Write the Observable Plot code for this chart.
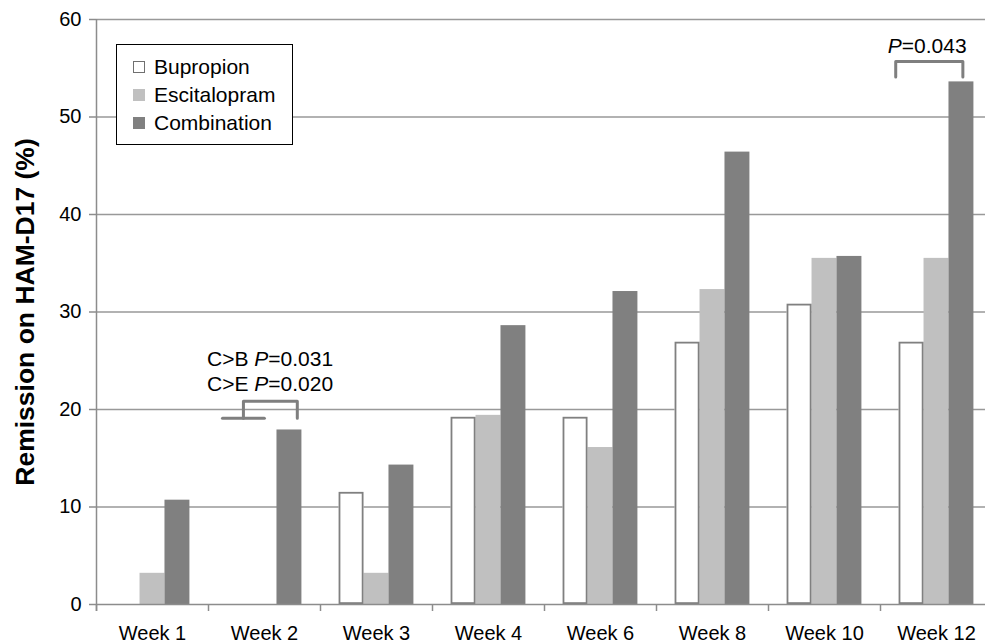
<!DOCTYPE html>
<html>
<head>
<meta charset="utf-8">
<script src="https://cdn.jsdelivr.net/npm/d3@7"></script>
<script src="https://cdn.jsdelivr.net/npm/@observablehq/plot@0.6"></script>
<style>
  html, body { margin: 0; padding: 0; background: #fff; overflow: hidden; }
  #chart { position: relative; width: 985px; height: 643px; overflow: hidden;
           font-family: "Liberation Sans", Arial, Helvetica, sans-serif; }
  #chart svg { display: block; }
  .legend { position: absolute; left: 116px; top: 44px; width: 175px; height: 99px;
            border: 1px solid #000; background: #fff; }
  .legend .row { position: absolute; left: 16px; height: 24px; display: flex; align-items: center;
                 font-size: 21px; color: #000; white-space: nowrap; }
  .legend .sw { width: 12px; height: 12px; margin-right: 9px; box-sizing: border-box; }
</style>
</head>
<body>
<div id="chart"></div>
<script>
// Remission rates (%) by study week for each treatment arm
const weeks = ["Week 1", "Week 2", "Week 3", "Week 4", "Week 6", "Week 8", "Week 10", "Week 12"];
const seriesNames = ["Bupropion", "Escitalopram", "Combination"];
const bupropion    = [0,    0,    11.5, 19.2, 19.2, 26.9, 30.8, 26.9];
const escitalopram = [3.2,  0,    3.2,  19.4, 16.1, 32.3, 35.5, 35.5];
const combination  = [10.7, 17.9, 14.3, 28.6, 32.1, 46.4, 35.7, 53.6];
const yTicks = [0, 10, 20, 30, 40, 50, 60];
const seriesColors = ["#ffffff", "#c0c0c0", "#808080"];
const yTitle = "Remission on HAM-D17 (%)";

// Significance brackets (x in bar-slot units inside a week group, y in %)
const bracketWeek2 = [{x: 0.655, y: 19.1}, {x: 0.655, y: 20.85}, {x: 2.815, y: 20.85}, {x: 2.815, y: 19.1}];
const stubWeek2 = [{x: -0.185, y: 19.1}, {x: 1.495, y: 19.1}];
const bracketWeek12 = [{x: -0.135, y: 54.1}, {x: -0.135, y: 55.7}, {x: 2.557, y: 55.7}, {x: 2.557, y: 54.1}];
const pLabels = [
  {week: "Week 2", x: 1.725, y: 25.2, text: "C>B P=0.031"},
  {week: "Week 2", x: 1.725, y: 22.55, text: "C>E P=0.020"},
  {week: "Week 12", x: 1.125, y: 57.3, text: "P=0.043"}
];

const allSeries = [bupropion, escitalopram, combination];
const rows = weeks.flatMap((week, w) =>
  allSeries.map((values, i) => ({week, series: seriesNames[i], slot: i, value: values[w]}))
);
const drawn = rows.filter(d => d.value > 0);

// each week group: three bar slots with empty space on both sides
const groupGap = 0.745;
const xDomain = [-groupGap, seriesNames.length + groupGap];
const axisGray = "#8c8c8c";

const plot = Plot.plot({
  width: 985,
  height: 643,
  marginTop: 19,
  marginBottom: 39,
  marginLeft: 95,
  marginRight: -8,
  style: {fontFamily: "'Liberation Sans', Arial, Helvetica, sans-serif", color: "#000", background: "transparent"},
  fx: {domain: weeks, padding: 0},
  x: {domain: xDomain, axis: null},
  y: {domain: [0, 60], axis: null},
  color: {domain: seriesNames, range: seriesColors},
  marks: [
    Plot.gridY(yTicks.slice(1), {stroke: "#999", strokeOpacity: 1, strokeWidth: 1.5}),
    Plot.rectY(drawn, {fx: "week", x1: "slot", x2: d => d.slot + 1, y1: 0, y2: "value", fill: "series"}),
    Plot.rectY(drawn.filter(d => d.series === "Bupropion"), {
      fx: "week", x1: "slot", x2: d => d.slot + 1, y1: 0, y2: "value",
      fill: "none", stroke: "#808080", strokeWidth: 1.8, inset: 0.9
    }),
    Plot.ruleY([0], {stroke: axisGray, strokeWidth: 1.5}),
    // category boundary ticks below the baseline
    Plot.ruleX(weeks.map(week => ({week})), {fx: "week", x: xDomain[0], y1: 0, y2: 0, insetBottom: -7, stroke: axisGray, strokeWidth: 1.5}),
    // vertical value axis line
    Plot.ruleX([{week: weeks[0]}], {fx: "week", x: xDomain[0], y1: 60, y2: 0, insetBottom: -7, stroke: axisGray, strokeWidth: 1.5}),
    Plot.axisY(yTicks, {tickSize: 7, tickPadding: 8, fontSize: 20, stroke: axisGray, strokeWidth: 1.5, fill: "#000", label: null}),
    Plot.axisFx({anchor: "bottom", tickSize: 0, tickPadding: 21, fontSize: 20, fill: "#000", label: null}),
    Plot.text([yTitle], {fx: () => weeks[0], frameAnchor: "left", textAnchor: "middle", dx: -70.5, rotate: -90, fontSize: 26.5, fontWeight: "bold", fill: "#000"}),
    // significance brackets
    Plot.line(bracketWeek2, {fx: () => "Week 2", x: "x", y: "y", stroke: "#7f7f7f", strokeWidth: 3, strokeLinejoin: "round"}),
    Plot.line(stubWeek2, {fx: () => "Week 2", x: "x", y: "y", stroke: "#7f7f7f", strokeWidth: 3}),
    Plot.line(bracketWeek12, {fx: () => "Week 12", x: "x", y: "y", stroke: "#7f7f7f", strokeWidth: 3, strokeLinejoin: "round"}),
    Plot.text(pLabels, {fx: "week", x: "x", y: "y", text: "text", fontSize: 21, fill: "#000", className: "pval"})
  ]
});

// italicise the statistic symbol "P" in the p-value labels
d3.select(plot).selectAll("text").each(function () {
  const t = this.textContent;
  const m = /^(.*?)P(=.*)$/.exec(t);
  if (!m || this.querySelector("tspan")) return;
  const el = d3.select(this);
  el.text(null);
  if (m[1]) el.append("tspan").text(m[1]);
  el.append("tspan").attr("font-style", "italic").text("P");
  el.append("tspan").text(m[2]);
});

const chart = document.getElementById("chart");
chart.appendChild(plot);

// legend box in the upper-left of the plot area
const legend = d3.select(chart).append("div").attr("class", "legend");
const rowTops = [10, 38, 66];
seriesNames.forEach((name, i) => {
  const row = legend.append("div").attr("class", "row").style("top", rowTops[i] + "px");
  row.append("div").attr("class", "sw")
    .style("background", seriesColors[i])
    .style("border", i === 0 ? "1px solid #707070" : "none");
  row.append("span").text(name);
});
</script>
</body>
</html>
